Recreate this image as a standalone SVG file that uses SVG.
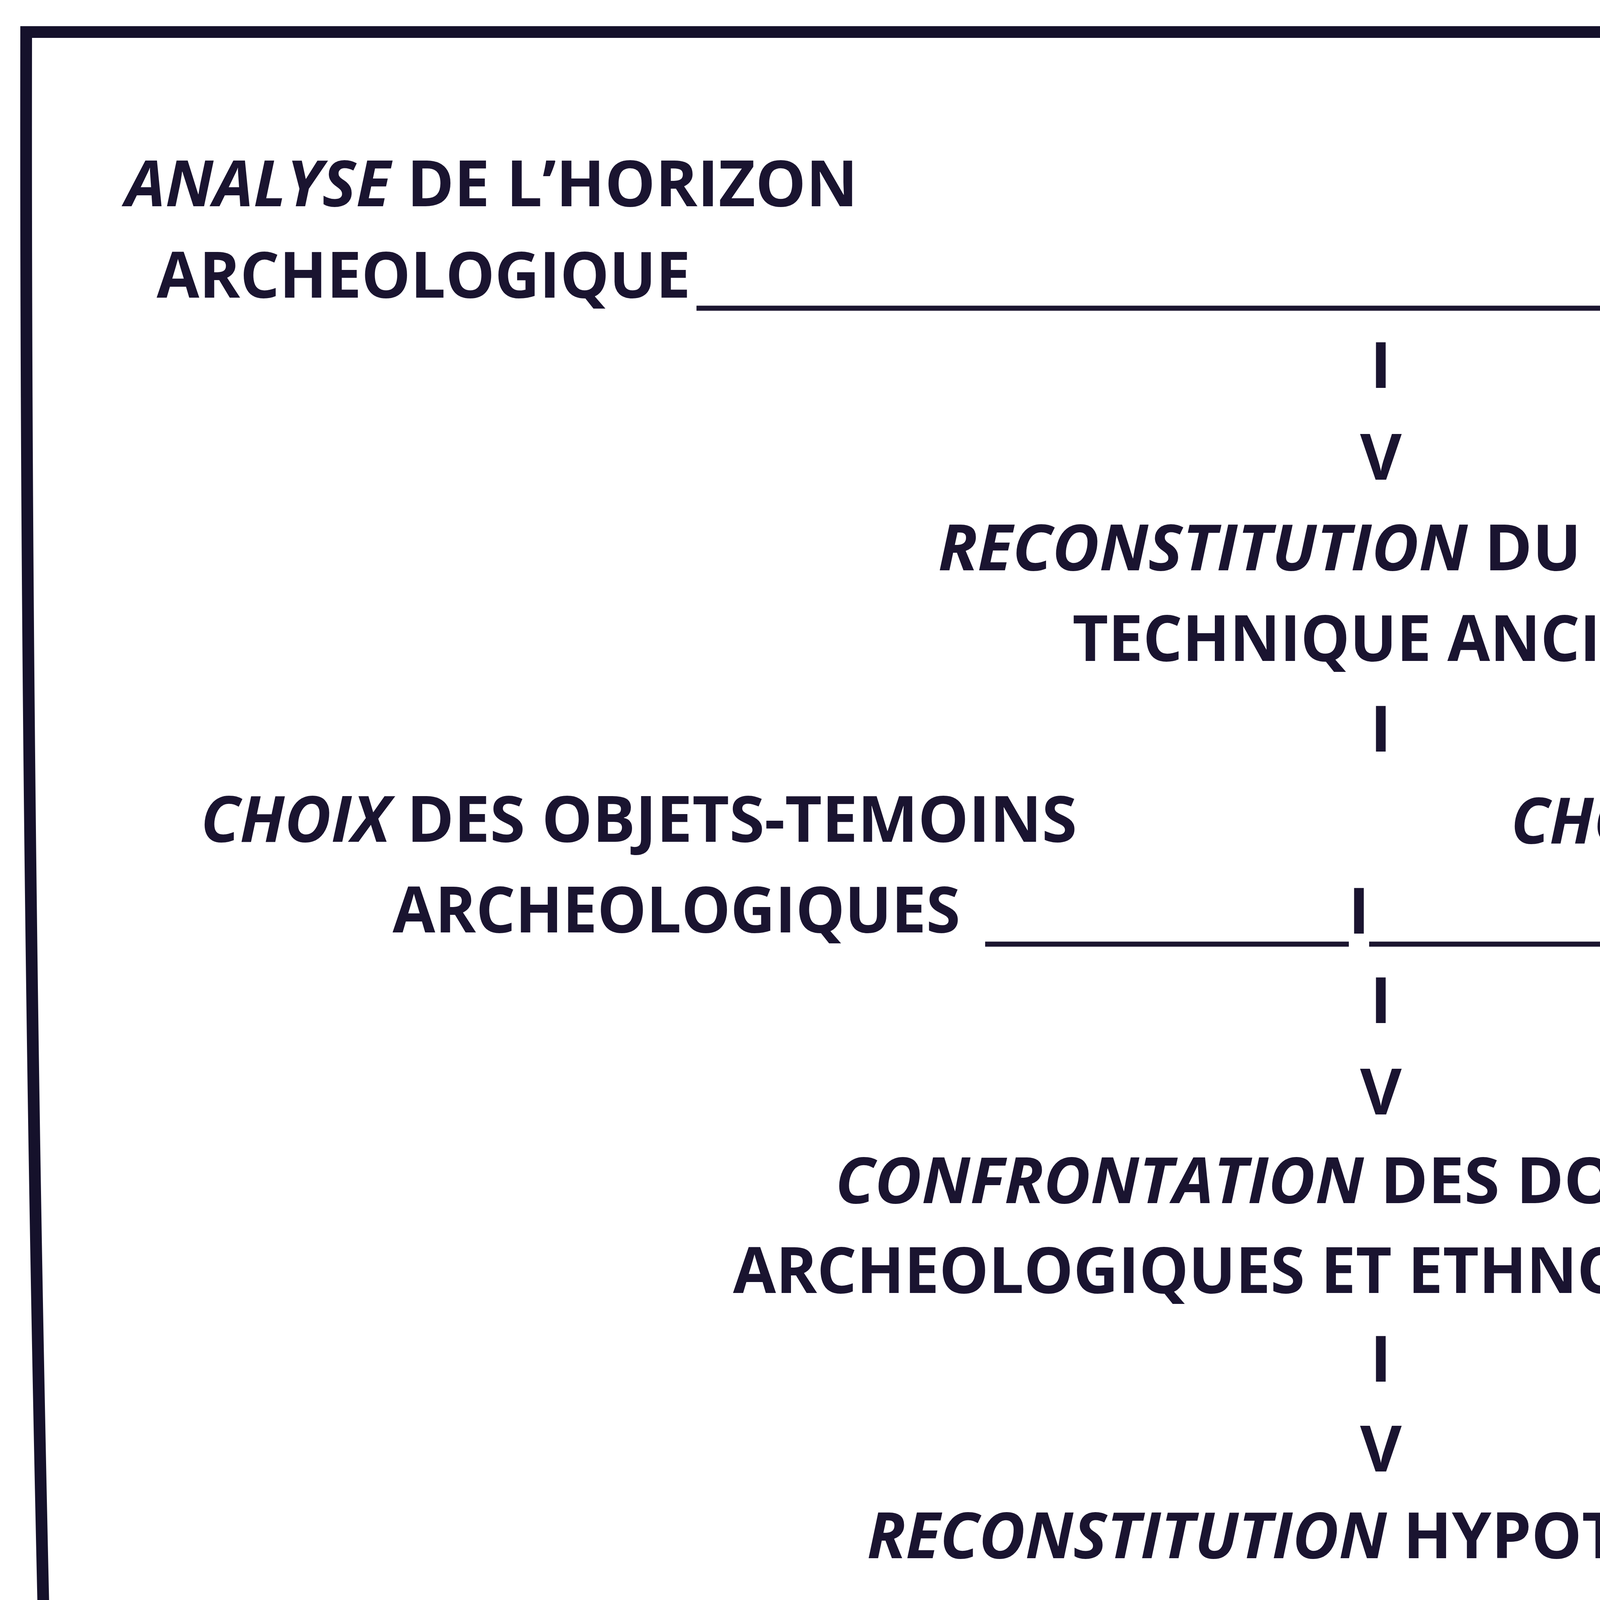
<svg xmlns="http://www.w3.org/2000/svg" width="7087" height="5301" viewBox="0 0 7087 5301">
<style>
.t{font-family:"Open Sans","Liberation Sans",sans-serif;font-weight:700;font-size:164px;fill:#1a1430}
.i{font-style:italic}
.c{text-anchor:middle}
.ln{stroke:#1c1630;stroke-width:13;fill:none}
.frame{stroke:#15112b;stroke-width:30;fill:none;stroke-linejoin:miter}
</style>
<rect x="0" y="0" width="7087" height="5301" fill="#ffffff"/>
<path class="frame" d="M67,82 L6997,82 Q6998,2560 6926,5212 Q6400,5222 5876,5218 Q5000,5204 4520,5204 Q2200,5198 139,5194 Q63,2563 67,82 Z"/>
<g id="node-analyse-horizon">
<text class="t" x="321" y="528" textLength="1875" lengthAdjust="spacingAndGlyphs"><tspan class="i">ANALYSE</tspan> DE L’HORIZON</text>
<text class="t" x="401" y="762" textLength="1367" lengthAdjust="spacingAndGlyphs">ARCHEOLOGIQUE</text>
</g>
<g id="node-analyse-milieu">
<text class="t" x="5141" y="528" textLength="1599" lengthAdjust="spacingAndGlyphs"><tspan class="i">ANALYSE</tspan> DU MILIEU</text>
<text class="t" x="5385" y="763" textLength="1279" lengthAdjust="spacingAndGlyphs">GEOGRAPHIQUE</text>
</g>
<g id="node-reconstitution-milieu">
<text class="t c" x="3535" y="1460" textLength="2267" lengthAdjust="spacingAndGlyphs"><tspan class="i">RECONSTITUTION</tspan> DU MILIEU</text>
<text class="t c" x="3530" y="1692" textLength="1569" lengthAdjust="spacingAndGlyphs">TECHNIQUE ANCIEN</text>
</g>
<g id="node-choix-objets">
<text class="t" x="514" y="2155" textLength="2243" lengthAdjust="spacingAndGlyphs"><tspan class="i">CHOIX</tspan> DES OBJETS-TEMOINS</text>
<text class="t" x="1005" y="2387" textLength="1453" lengthAdjust="spacingAndGlyphs">ARCHEOLOGIQUES</text>
</g>
<g id="node-choix-modeles">
<text class="t" x="3868" y="2159" textLength="2692" lengthAdjust="spacingAndGlyphs"><tspan class="i">CHOIX</tspan> DES MODELES TECHNIQUES</text>
<text class="t" x="4509" y="2388" textLength="1581" lengthAdjust="spacingAndGlyphs">ETHNOGRAPHIQUES</text>
</g>
<g id="node-confrontation">
<text class="t c" x="3535" y="3080" textLength="2793" lengthAdjust="spacingAndGlyphs"><tspan class="i">CONFRONTATION</tspan> DES DOCUMENTS</text>
<text class="t c" x="3535" y="3310" textLength="3317" lengthAdjust="spacingAndGlyphs">ARCHEOLOGIQUES ET ETHNOGRAPHIQUES</text>
</g>
<g id="node-reconstitution-hypothetique">
<text class="t c" x="3535" y="3989" textLength="2631" lengthAdjust="spacingAndGlyphs"><tspan class="i">RECONSTITUTION</tspan> HYPOTHETIQUE</text>
<text class="t c" x="3533" y="4219" textLength="3367" lengthAdjust="spacingAndGlyphs">DES ANCIENNES PRATIQUES ALIMENTAIRES</text>
</g>
<g id="node-verification">
<text class="t c" x="3537" y="4891" textLength="3774" lengthAdjust="spacingAndGlyphs"><tspan class="i">VERIFICATION</tspan> PAR ANALYSES CHIMIQUES CG/SM</text>
</g>
<g id="connectors">
<line class="ln" x1="1783" y1="789" x2="5370" y2="789"/>
<text class="t c" x="3535" y="993">I</text>
<text class="t c" x="3535" y="1228">V</text>
<text class="t c" x="3535" y="1924">I</text>
<line class="ln" x1="2522" y1="2417" x2="3453" y2="2417"/>
<text class="t c" x="3479" y="2390">I</text>
<line class="ln" x1="3505" y1="2417" x2="4445" y2="2417"/>
<text class="t c" x="3535" y="2619">I</text>
<text class="t c" x="3535" y="2853">V</text>
<text class="t c" x="3535" y="3537">I</text>
<text class="t c" x="3535" y="3767">V</text>
<text class="t c" x="3535" y="4444">I</text>
<text class="t c" x="3537" y="4668">V</text>
</g>
</svg>
